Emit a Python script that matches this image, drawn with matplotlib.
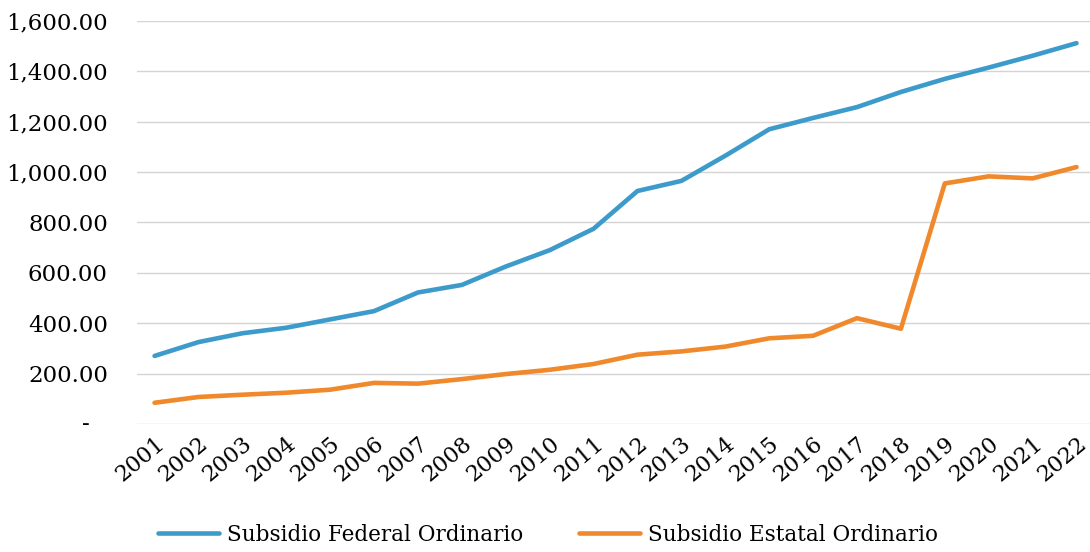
import matplotlib
matplotlib.use("Agg")
import matplotlib.pyplot as plt

# datos (millones de pesos)
anios = [str(a) for a in range(2001, 2023)]
federal = [270, 325, 360, 382, 415, 448, 522, 552, 625, 690, 775, 925,
           965, 1065, 1170, 1215, 1258, 1318, 1370, 1415, 1462, 1512]
estatal = [84, 107, 116, 124, 136, 163, 160, 178, 198, 215, 238, 275,
           288, 307, 340, 350, 420, 378, 955, 983, 975, 1020]
y_ticks = [0, 200, 400, 600, 800, 1000, 1200, 1400, 1600]

plt.rcParams['font.family'] = ['DejaVu Serif']

fig = plt.figure(figsize=(10.9, 5.52), dpi=100)
ax = fig.add_axes([0.1257, 0.232, 0.874, 0.730])

x = list(range(len(anios)))
ax.plot(x, federal, color='#3d9bcb', lw=3.3, solid_capstyle='round',
        label='Subsidio Federal Ordinario')
ax.plot(x, estatal, color='#f0892b', lw=3.3, solid_capstyle='round',
        label='Subsidio Estatal Ordinario')

ax.set_xlim(-0.4, len(anios) - 0.7)
ax.set_ylim(0, 1600)
ax.set_yticks(y_ticks)
ax.set_yticklabels([''] + [f"{v:,.2f}" for v in y_ticks[1:]], fontsize=16.5)
# el cero se muestra como guion (formato contable), algo mas a la izquierda
ax.annotate('-', xy=(0, 0), xycoords=('axes fraction', 'data'),
            xytext=(-51, 0), textcoords='offset pixels',
            ha='center', va='center', fontsize=16.5)
ax.set_xticks(x)
ax.set_xticklabels(anios, fontsize=16, rotation=40, ha='right',
                   rotation_mode='anchor')

ax.tick_params(axis='y', length=0, pad=21)
ax.tick_params(axis='x', length=0, pad=6)
ax.grid(axis='y', color='#d4d4d4', lw=1.0)
ax.set_axisbelow(True)
for s in ax.spines.values():
    s.set_visible(False)

fig.legend(loc='center', bbox_to_anchor=(0.503, 0.031), ncol=2, frameon=False,
           fontsize=15.5, handlelength=2.8, columnspacing=2.6, handletextpad=0.4)

fig.savefig('out.png', dpi=100)
